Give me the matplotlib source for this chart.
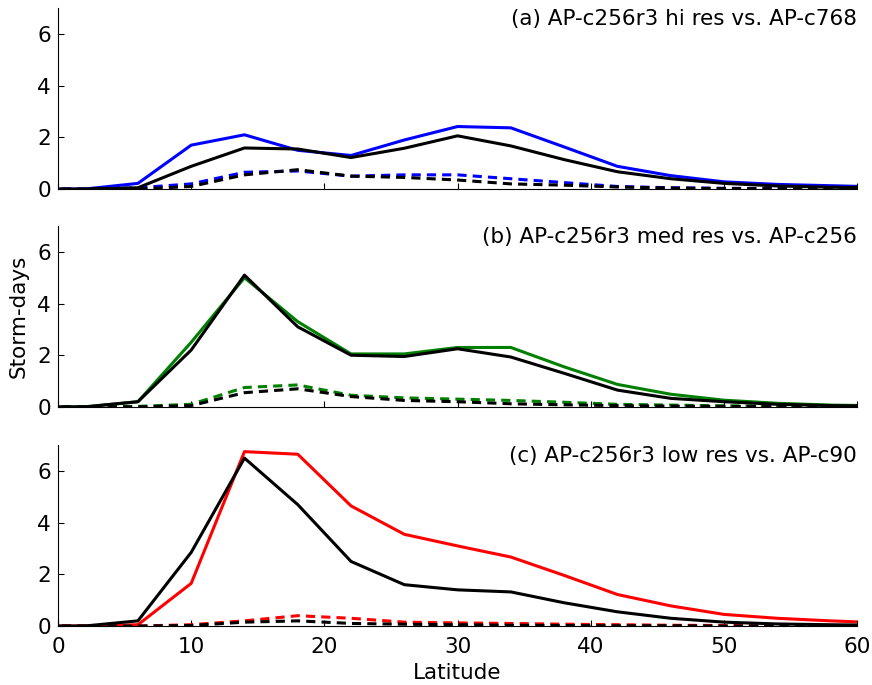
import numpy as np
import matplotlib
matplotlib.use("Agg")
import matplotlib.pyplot as plt

# latitude bin centres (4 deg bins), padded one bin each side so the lines reach the frame
lat = [-2, 2, 6, 10, 14, 18, 22, 26, 30, 34, 38, 42, 46, 50, 54, 58, 62]

# (a) hi res vs. AP-c768
a_exp_all = [0, 0, 0.22, 1.7, 2.1, 1.5, 1.3, 1.9, 2.42, 2.37, 1.63, 0.88, 0.52, 0.28, 0.18, 0.13, 0.08]
a_ctl_all = [0, 0, 0.05, 0.88, 1.59, 1.55, 1.22, 1.58, 2.06, 1.67, 1.14, 0.67, 0.4, 0.22, 0.12, 0.07, 0.05]
a_exp_hur = [0, 0, 0.05, 0.2, 0.65, 0.7, 0.5, 0.55, 0.55, 0.4, 0.25, 0.1, 0.05, 0.03, 0.02, 0.02, 0.01]
a_ctl_hur = [0, 0, 0.0, 0.1, 0.55, 0.75, 0.5, 0.45, 0.35, 0.2, 0.15, 0.08, 0.04, 0.02, 0.01, 0.01, 0.0]

# (b) med res vs. AP-c256
b_exp_all = [0, 0, 0.2, 2.5, 5.0, 3.3, 2.05, 2.05, 2.3, 2.3, 1.55, 0.87, 0.49, 0.26, 0.14, 0.07, 0.04]
b_ctl_all = [0, 0, 0.2, 2.2, 5.1, 3.1, 2.0, 1.95, 2.25, 1.93, 1.3, 0.65, 0.33, 0.2, 0.1, 0.05, 0.03]
b_exp_hur = [0, 0, 0.02, 0.1, 0.75, 0.85, 0.45, 0.35, 0.3, 0.25, 0.18, 0.1, 0.07, 0.04, 0.03, 0.02, 0.01]
b_ctl_hur = [0, 0, 0.0, 0.05, 0.55, 0.7, 0.4, 0.25, 0.2, 0.12, 0.08, 0.05, 0.03, 0.02, 0.01, 0.01, 0.0]

# (c) low res vs. AP-c90
c_exp_all = [0, 0, 0.05, 1.65, 6.75, 6.65, 4.65, 3.55, 3.1, 2.67, 1.96, 1.22, 0.78, 0.45, 0.3, 0.2, 0.12]
c_ctl_all = [0, 0, 0.2, 2.85, 6.5, 4.7, 2.5, 1.6, 1.4, 1.32, 0.9, 0.55, 0.3, 0.15, 0.08, 0.05, 0.03]
c_exp_hur = [0, 0, 0.0, 0.05, 0.2, 0.4, 0.3, 0.15, 0.12, 0.1, 0.07, 0.05, 0.03, 0.02, 0.01, 0.01, 0.0]
c_ctl_hur = [0, 0, 0.0, 0.02, 0.15, 0.2, 0.1, 0.07, 0.05, 0.03, 0.02, 0.01, 0.01, 0.0, 0.0, 0.0, 0.0]

titles = ["(a) AP-c256r3 hi res vs. AP-c768",
          "(b) AP-c256r3 med res vs. AP-c256",
          "(c) AP-c256r3 low res vs. AP-c90"]
colors = ["#0000ff", "#008000", "#ff0000"]
panels = [(a_exp_all, a_ctl_all, a_exp_hur, a_ctl_hur),
          (b_exp_all, b_ctl_all, b_exp_hur, b_ctl_hur),
          (c_exp_all, c_ctl_all, c_exp_hur, c_ctl_hur)]

plt.rcParams['font.size'] = 15.5
fig = plt.figure(figsize=(8.72, 6.85), dpi=100)
bottoms = [0.724, 0.406, 0.0861]
dash = (0, (3, 2))
axes = []
for i in range(3):
    ax = fig.add_axes([0.0665, bottoms[i], 0.9165, 0.264])
    exp_all, ctl_all, exp_hur, ctl_hur = panels[i]
    c = colors[i]
    ax.plot(lat, exp_all, color=c, lw=2.2)
    ax.plot(lat, exp_hur, color=c, lw=2.2, ls=dash)
    ax.plot(lat, ctl_all, color='k', lw=2.2)
    ax.plot(lat, ctl_hur, color='k', lw=2.2, ls=dash)
    ax.set_xlim(0, 60)
    ax.set_ylim(0, 7)
    ax.set_yticks([0, 2, 4, 6])
    ax.set_xticks([0, 10, 20, 30, 40, 50, 60])
    ax.spines['top'].set_visible(False)
    ax.spines['right'].set_visible(False)
    ax.tick_params(direction='in', length=4, top=False, right=False)
    ax.tick_params(axis='y', pad=5)
    ax.tick_params(axis='x', pad=8)
    ax.text(1.0, 0.995, titles[i], transform=ax.transAxes, ha='right', va='top')
    if i < 2:
        ax.set_xticklabels([])
    axes.append(ax)

axes[1].set_ylabel("Storm-days", labelpad=6)
axes[2].set_xlabel("Latitude", labelpad=4)

fig.savefig("out.png", dpi=100)
